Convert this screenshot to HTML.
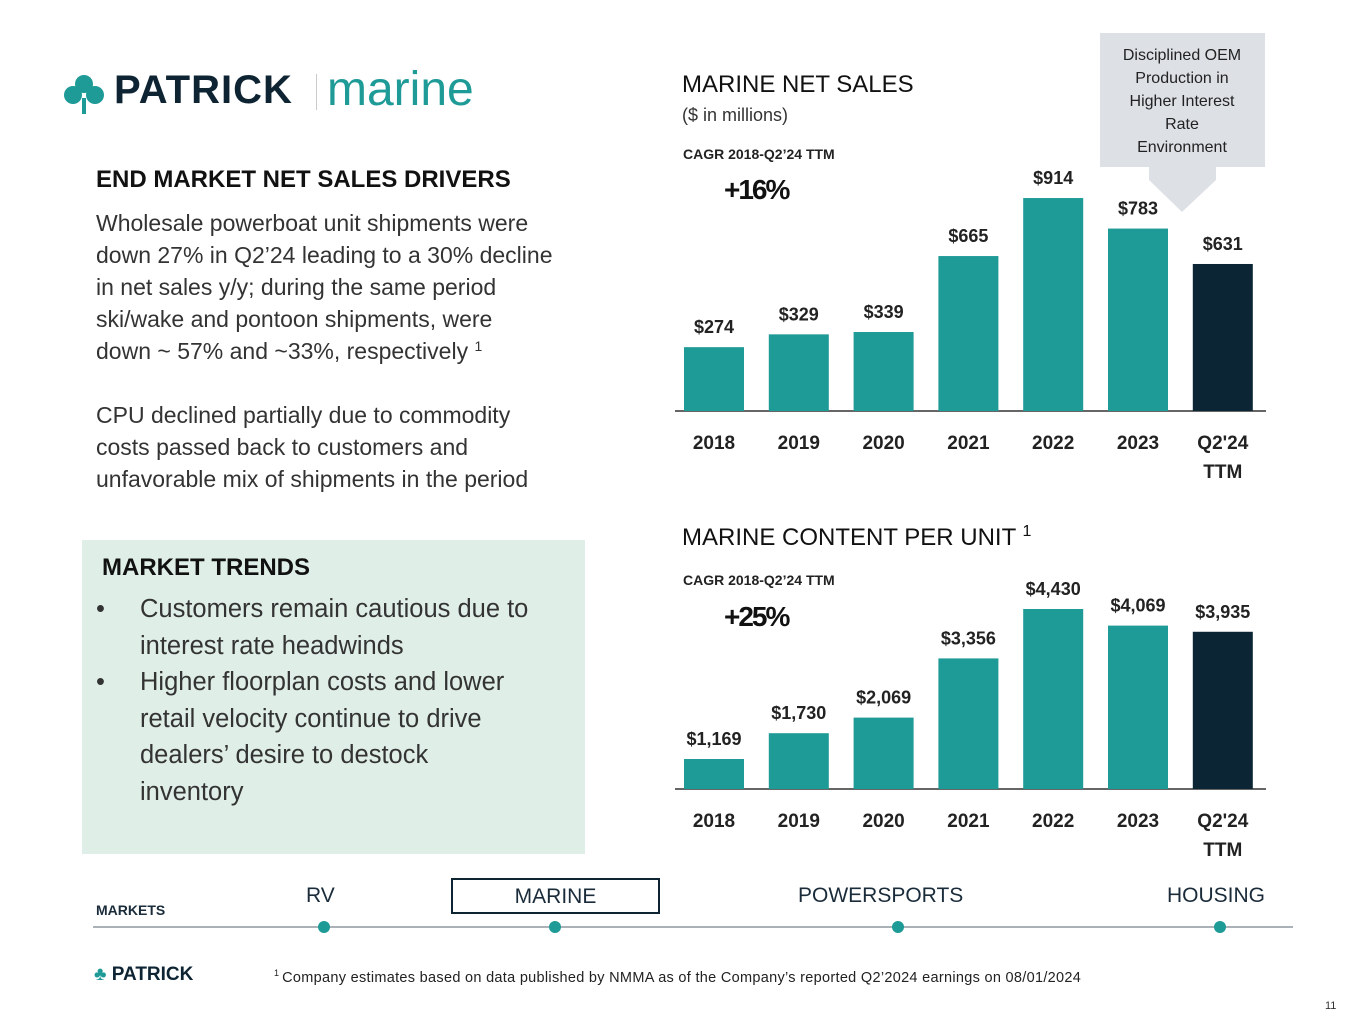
<!DOCTYPE html>
<html><head><meta charset="utf-8"><style>
body{margin:0;width:1365px;height:1024px;background:#fff;position:relative;overflow:hidden;font-family:"Liberation Sans",sans-serif;color:#222}
.a{position:absolute}
</style></head><body>
<div class="a" style="left:62px;top:68px;height:50px;width:430px">
<svg class="a" style="left:0;top:6px" width="44" height="40" viewBox="0 0 44 40"><g fill="#1e9a97"><circle cx="22" cy="10" r="9"/><circle cx="11" cy="21" r="9"/><circle cx="33" cy="21" r="9"/><rect x="20" y="24" width="4" height="16"/></g></svg>
<div class="a" style="left:52px;top:0;font-size:40px;font-weight:bold;color:#0e2433;letter-spacing:1px">PATRICK</div>
<div class="a" style="left:254px;top:6px;width:1px;height:36px;background:#ccc"></div>
<div class="a" style="left:265px;top:-6px;font-size:48px;color:#1e9a97">marine</div>
</div>
<div class="a" style="left:96px;top:166px;font-size:24px;font-weight:bold;color:#111">END MARKET NET SALES DRIVERS</div>
<div class="a" style="left:96px;top:207px;font-size:23px;line-height:32px;color:#333;white-space:nowrap">Wholesale powerboat unit shipments were<br>down 27% in Q2’24 leading to a 30% decline<br>in net sales y/y; during the same period<br>ski/wake and pontoon shipments, were<br>down ~ 57% and ~33%, respectively <sup style="font-size:14px;vertical-align:8px;line-height:0">1</sup><br><br>CPU declined partially due to commodity<br>costs passed back to customers and<br>unfavorable mix of shipments in the period</div>
<div class="a" style="left:82px;top:540px;width:503px;height:314px;background:#dfeee6">
<div class="a" style="left:20px;top:14px;font-size:24px;font-weight:bold;color:#111">MARKET TRENDS</div>
<div class="a" style="left:14px;top:51px;font-size:25.5px;line-height:36.5px;color:#333;white-space:nowrap">
<div style="display:flex"><span style="width:44px">•</span><span>Customers remain cautious due to<br>interest rate headwinds</span></div>
<div style="display:flex"><span style="width:44px;flex:none">•</span><span>Higher floorplan costs and lower<br>retail velocity continue to drive<br>dealers’ desire to destock<br>inventory</span></div>
</div></div>
<div class="a" style="left:682px;top:71px;font-size:24px;color:#111">MARINE NET SALES</div>
<div class="a" style="left:682px;top:105px;font-size:18px;color:#333">($ in millions)</div>
<div class="a" style="left:683px;top:146px;font-size:14px;font-weight:bold;color:#222">CAGR 2018-Q2’24 TTM</div>
<div class="a" style="left:724px;top:174px;font-size:28px;font-weight:bold;color:#111;letter-spacing:-2px">+16%</div>
<div class="a" style="left:682px;top:524px;font-size:24px;color:#111">MARINE CONTENT PER UNIT <sup style="font-size:16px;vertical-align:9px;line-height:0">1</sup></div>
<div class="a" style="left:683px;top:572px;font-size:14px;font-weight:bold;color:#222">CAGR 2018-Q2’24 TTM</div>
<div class="a" style="left:724px;top:601px;font-size:28px;font-weight:bold;color:#111;letter-spacing:-2px">+25%</div>
<svg class="a" style="left:0;top:0" width="1365" height="1024" id="charts">
<rect x="1100" y="33" width="165" height="134" fill="#dde1e6"/>
<polygon points="1149,167 1216,167 1216,180 1182,212 1149,180" fill="#dde1e6"/>
<text font-size="16" fill="#222" text-anchor="middle" font-family="Liberation Sans"><tspan x="1182" y="60">Disciplined OEM</tspan><tspan x="1182" y="83">Production in</tspan><tspan x="1182" y="106">Higher Interest</tspan><tspan x="1182" y="129">Rate</tspan><tspan x="1182" y="152">Environment</tspan></text>
</svg>
<div class="a" style="left:96px;top:902px;font-size:14px;font-weight:bold;color:#1a2b3a">MARKETS</div>
<div class="a" style="left:306px;top:884px;font-size:21px;color:#1a2b3a">RV</div>
<div class="a" style="left:451px;top:878px;width:205px;height:32px;border:2px solid #0e2433;font-size:21px;color:#1a2b3a;text-align:center;line-height:34px">MARINE</div>
<div class="a" style="left:798px;top:884px;font-size:21px;color:#1a2b3a">POWERSPORTS</div>
<div class="a" style="left:1167px;top:884px;font-size:21px;color:#1a2b3a">HOUSING</div>
<div class="a" style="left:93px;top:926px;width:1200px;height:2px;background:#aab2b8"></div>
<div class="a" style="left:318px;top:921px;width:12px;height:12px;border-radius:50%;background:#1e9a97"></div>
<div class="a" style="left:549px;top:921px;width:12px;height:12px;border-radius:50%;background:#1e9a97"></div>
<div class="a" style="left:892px;top:921px;width:12px;height:12px;border-radius:50%;background:#1e9a97"></div>
<div class="a" style="left:1214px;top:921px;width:12px;height:12px;border-radius:50%;background:#1e9a97"></div>
<div class="a" style="left:94px;top:964px;font-size:19px;font-weight:bold;color:#0e2433"><span style="color:#1e9a97">♣</span> PATRICK</div>
<div class="a" style="left:274px;top:968px;font-size:14.5px;color:#222;letter-spacing:0.3px"><sup style="font-size:9px">1 </sup>Company estimates based on data published by NMMA as of the Company’s reported Q2’2024 earnings on 08/01/2024</div>
<div class="a" style="left:1325px;top:1000px;font-size:11px;color:#333">11</div>
<script>
const categories=["2018","2019","2020","2021","2022","2023","Q2'24"];
const salesValues=[274,329,339,665,914,783,631];
const salesLabels=["$274","$329","$339","$665","$914","$783","$631"];
const cpuValues=[1169,1730,2069,3356,4430,4069,3935];
const cpuLabels=["$1,169","$1,730","$2,069","$3,356","$4,430","$4,069","$3,935"];
const svg=document.getElementById('charts');
const NS='http://www.w3.org/2000/svg';
function mk(t,a){const e=document.createElementNS(NS,t);for(const k in a)e.setAttribute(k,a[k]);svg.appendChild(e);return e;}
function xPos(i){return 714+i*84.8;}
function drawChart(vals,labels,base,scale,min,prefix){
  const ax=mk('line',{x1:675,x2:1266,y1:base,y2:base,stroke:'#333','stroke-width':1.5});
  
  
  vals.forEach((v,i)=>{
    const h=(v-min)*scale;const x=xPos(i);
    const r=mk('rect',{x:x-30,y:base-h,width:60,height:h,fill:i==vals.length-1?'#0b2535':'#1e9a97'});
    
    
    const t=mk('text',{x:x,y:base-h-14,'text-anchor':'middle','font-size':18,'font-weight':'bold',fill:'#222','font-family':'Liberation Sans'});
    t.textContent=labels[i];
    
    
    const c=mk('text',{x:x,y:base+38,'text-anchor':'middle','font-size':19,'font-weight':'bold',fill:'#222','font-family':'Liberation Sans'});
    c.textContent=categories[i];
    
    
    if(i==vals.length-1){const c2=mk('text',{x:x,y:base+67,'text-anchor':'middle','font-size':19,'font-weight':'bold',fill:'#222','font-family':'Liberation Sans'});c2.textContent='TTM';
      
      }
  });
}
drawChart(salesValues,salesLabels,411,0.233,0,'sales');
drawChart(cpuValues,cpuLabels,789,0.046,517,'cpu');
</script>
</body></html>
